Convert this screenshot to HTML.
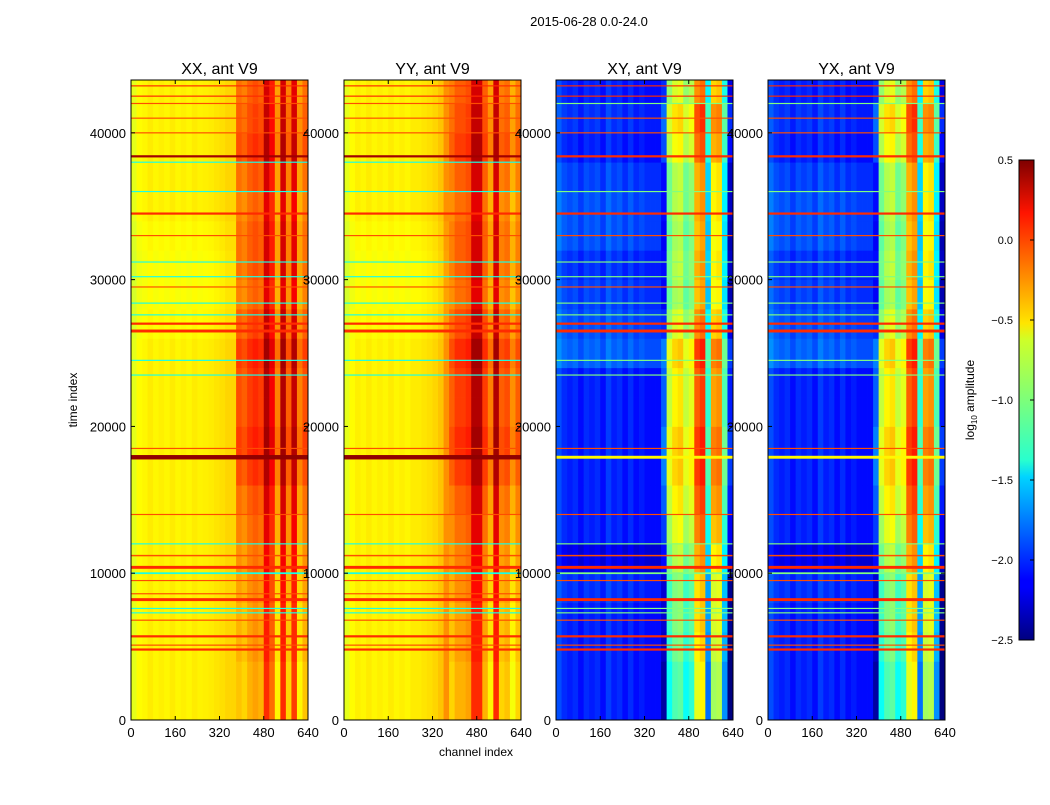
<!DOCTYPE html>
<html><head><meta charset="utf-8"><style>
body{margin:0;background:#fff}
svg text{font-family:"Liberation Sans",sans-serif}
</style></head><body>
<svg id="fig" width="1050" height="800" xmlns="http://www.w3.org/2000/svg">
<defs><linearGradient id="jet" x1="0" y1="1" x2="0" y2="0">
<stop offset="0" stop-color="#00007f"/><stop offset="0.11" stop-color="#0000ff"/><stop offset="0.125" stop-color="#0000ff"/>
<stop offset="0.34" stop-color="#00d4ff"/><stop offset="0.375" stop-color="#29ffce"/><stop offset="0.5" stop-color="#7dff7a"/>
<stop offset="0.625" stop-color="#ceff29"/><stop offset="0.66" stop-color="#ffe500"/><stop offset="0.89" stop-color="#ff1400"/>
<stop offset="1" stop-color="#7f0000"/></linearGradient></defs>
<text x="589" y="26" font-size="13" text-anchor="middle">2015-06-28 0.0-24.0</text>
<g id="panels"></g>
<rect x="1019" y="160" width="15" height="480" fill="url(#jet)" stroke="#000"/>
<g id="cbticks"></g>
<text transform="translate(974,400) rotate(-90)" font-size="12" text-anchor="middle">log<tspan font-size="8" dy="3">10</tspan><tspan dy="-3"> amplitude</tspan></text>
<text x="476" y="756" font-size="12" text-anchor="middle">channel index</text>
<text transform="translate(77,400) rotate(-90)" font-size="12" text-anchor="middle">time index</text>
</svg>
<script>
const panelTitles=["XX, ant V9","YY, ant V9","XY, ant V9","YX, ant V9"];
const xTicks=[0,160,320,480,640];
const yTicks=[0,10000,20000,30000,40000];
const cbTicks=[0.5,0.0,-0.5,-1.0,-1.5,-2.0,-2.5];
// column profile per 20-channel bin (32 bins)
const colXX=[-0.7,-0.62,-0.6,-0.57,-0.6,-0.58,-0.6,-0.57,-0.6,-0.58,-0.6,-0.57,-0.59,-0.58,-0.57,-0.55,-0.53,-0.5,-0.5,-0.3,-0.35,-0.25,-0.2,-0.25,0.15,-0.05,-0.45,0.15,-0.35,0.1,-0.45,-0.3];
const colYY=[-0.7,-0.62,-0.58,-0.6,-0.57,-0.6,-0.58,-0.6,-0.57,-0.6,-0.58,-0.6,-0.57,-0.57,-0.55,-0.53,-0.5,-0.45,-0.3,-0.35,-0.25,-0.25,-0.2,0.15,0.15,-0.25,-0.45,0.15,-0.35,-0.3,-0.5,-0.35];
const colXY=[-1.9,-2.0,-2.05,-2.0,-2.1,-2.0,-2.05,-2.0,-2.1,-1.95,-2.05,-2.0,-2.1,-2.0,-2.1,-2.05,-2.1,-2.1,-2.1,-2.0,-0.95,-0.75,-0.7,-0.95,-0.85,-0.3,-0.2,-1.4,-0.5,-0.45,-1.3,-2.2];
const colYX=[-1.9,-2.0,-2.05,-2.0,-2.1,-2.0,-2.05,-2.0,-2.1,-1.95,-2.05,-2.0,-2.1,-2.0,-2.1,-2.05,-2.1,-2.1,-2.1,-2.0,-0.95,-0.75,-0.7,-0.95,-0.85,-0.3,-0.2,-1.4,-0.5,-0.45,-1.3,-2.2];
// per 2000-time segment modifiers (22 segments)
const leftModAuto=[0,0,0,0,0,0,0,0,0,0,0,0,0,-0.03,-0.05,-0.05,-0.03,0,0,0,0,0];
const rightModAuto=[-0.15,-0.15,-0.1,-0.1,-0.05,0,0.05,0.1,0.2,0.25,0.2,0.2,0.25,0.15,0.05,0.1,0.1,0.05,0.1,0.2,0.15,0.1];
const leftModCross=[0,0,0,0,0.05,-0.15,0,0,0,0,0,0,0.2,0.15,0.1,0.05,0.15,0.15,0.1,0,0.05,0];
const rightModCross=[-0.4,-0.4,-0.3,-0.25,-0.25,-0.1,0.05,0.15,0.25,0.25,0.15,0.15,0.25,0.0,-0.15,-0.1,-0.15,-0.1,-0.1,0.1,0.2,0.0];
// horizontal event lines
const evAutoT=[4800,5100,5700,6800,7300,7600,8200,8600,9500,10000,10400,11200,12000,14000,17900,18500,23500,24500,26500,27000,27600,28400,29500,30200,31200,33000,34500,36000,38000,38400,40000,41000,42000,42500,43200];
const evAutoV=[0.0,-0.1,0.0,-0.1,-1.3,-1.3,0.0,-0.1,-0.1,-1.3,0.0,-0.1,-1.3,-0.1,0.45,-0.1,-1.3,-1.3,0.0,0.0,-1.3,-1.3,-0.1,-1.3,-1.3,-0.1,0.0,-1.3,-1.3,0.4,-0.1,-0.1,-0.1,0.0,0.0];
const evAutoW=[150,80,150,80,80,80,200,80,80,120,200,100,80,80,300,80,80,80,200,150,80,80,80,80,80,80,150,80,80,150,80,80,80,80,80];
const evCrossT=[4800,5100,5700,6800,7300,7600,8200,9500,10000,10400,11200,12000,14000,17900,18500,23500,24500,26500,27000,27600,28400,29500,30200,31200,33000,34500,36000,38400,40000,41000,42000,42500,43200];
const evCrossV=[0.0,-0.1,0.0,-0.1,-1.0,-1.0,0.0,-0.1,-1.0,0.0,-0.1,-1.0,-0.1,-0.6,-0.1,-1.0,-1.0,0.0,0.0,-1.0,-1.0,-0.1,-1.0,-1.0,-0.1,0.0,-1.0,0.0,-0.1,-0.1,-1.0,0.0,0.0];
const evCrossW=[150,80,150,80,80,80,200,80,120,200,100,80,80,200,80,80,80,200,150,80,80,80,80,80,80,150,80,150,80,80,80,80,80];

const cols=[colXX,colYY,colXY,colYX];
const px=[131,344,556,768], PW=177, PT=80, PB=720, TMAX=43600, CMAX=640;
function xs(p,c){return px[p]+c/CMAX*PW;}
function ys(t){return PB-t/TMAX*(PB-PT);}
function jet(v){let f=Math.max(0,Math.min(1,(v+2.5)/3));
 const cl=x=>Math.round(255*Math.max(0,Math.min(1,x)));
 return `rgb(${cl(1.5-Math.abs(4*f-3))},${cl(1.5-Math.abs(4*f-2))},${cl(1.5-Math.abs(4*f-1))})`;}
const NS="http://www.w3.org/2000/svg";
function mk(tag,attrs,parent){const e=document.createElementNS(NS,tag);for(const k in attrs)e.setAttribute(k,attrs[k]);parent.appendChild(e);return e;}
const G=document.getElementById('panels');
for(let p=0;p<4;p++){
 const g=mk('g',{},G);
 
 
 const auto=p<2, lm=auto?leftModAuto:leftModCross, rm=auto?rightModAuto:rightModCross;
 for(let s=0;s<lm.length;s++){
  const t0=s*2000,t1=Math.min(TMAX,(s+1)*2000);
  for(let b=0;b<32;b++){
   const v=cols[p][b]+(b>=19?rm[s]:lm[s]);
   const r=mk('rect',{x:xs(p,b*20),y:ys(t1),width:PW/32+0.4,height:ys(t0)-ys(t1)+0.4,fill:jet(v)},g);
   
   
  }
 }
 const T=auto?evAutoT:evCrossT,V=auto?evAutoV:evCrossV,W=auto?evAutoW:evCrossW;
 for(let i=0;i<T.length;i++){
  const r=mk('rect',{x:px[p],y:ys(T[i]+W[i]/2),width:PW,height:Math.max(1,ys(T[i]-W[i]/2)-ys(T[i]+W[i]/2)),fill:jet(V[i])},g);
  
  
 }
 const fr=mk('rect',{x:px[p],y:PT,width:PW,height:PB-PT,fill:'none',stroke:'#000'},g);
 
 
 const tt=mk('text',{x:px[p]+PW/2,y:74,'font-size':16,'text-anchor':'middle'},g);tt.textContent=panelTitles[p];
 
 
 xTicks.forEach(c=>{const x=xs(p,c);
  mk('line',{x1:x,x2:x,y1:PB,y2:PB-4,stroke:'#000'},g);mk('line',{x1:x,x2:x,y1:PT,y2:PT+4,stroke:'#000'},g);
  const l=mk('text',{x:x,y:737,'font-size':13,'text-anchor':'middle'},g);l.textContent=c;
  
  });
 yTicks.forEach(t=>{const y=ys(t);
  mk('line',{x1:px[p],x2:px[p]+4,y1:y,y2:y,stroke:'#000'},g);mk('line',{x1:px[p]+PW,x2:px[p]+PW-4,y1:y,y2:y,stroke:'#000'},g);
  const l=mk('text',{x:px[p]-5,y:y+5,'font-size':13,'text-anchor':'end'},g);l.textContent=t;
  
  });
}
const CB=document.getElementById('cbticks');
cbTicks.forEach(v=>{const y=160+(0.5-v)/3*480;
 mk('line',{x1:1030,x2:1034,y1:y,y2:y,stroke:'#000'},CB);
 const l=mk('text',{x:1013,y:y+4,'font-size':11,'text-anchor':'end'},CB);l.textContent=v.toFixed(1).replace('-','\u2212');
 
 });
</script>
</body></html>
